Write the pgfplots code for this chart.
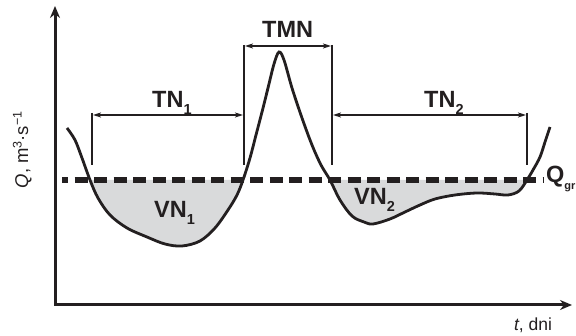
\documentclass[border=0pt]{standalone}
\usepackage{pgfplots}
\pgfplotsset{compat=1.18}
\usepgfplotslibrary{fillbetween}
\usetikzlibrary{arrows.meta}
\usepackage{fontspec}
\setmainfont{Liberation Sans}
\definecolor{ink}{HTML}{231F20}
\definecolor{lowfill}{HTML}{D9DADB}
\newcommand{\lab}{\bfseries\fontsize{23.5}{27}\selectfont}
\newcommand{\sub}[1]{\raisebox{-7pt}{\fontsize{14.5}{14.5}\selectfont #1}}
\begin{document}
\begin{tikzpicture}
\begin{axis}[hide axis, scale only axis, width=576pt, height=336pt,
  xmin=0, xmax=576, ymin=0, ymax=336, y dir=reverse, clip=false]
\addplot[name path=curve, ink, line width=2.8pt, smooth, tension=0.55] coordinates {
(67,128) (75,140) (82,158) (90,180) (98,198) (110,215) (127,228) (147,237)
(165,244) (182,246) (200,241) (215,228) (228,210) (237,195) (243,180)
(250,158) (256,135) (262,112) (268,88) (274,64) (279,52) (284,60) (292,88)
(302,118) (312,145) (321,165) (330,180) (340,200) (352,216) (364,222)
(373,224) (390,219) (405,212) (420,205) (435,199) (455,195) (477,193)
(495,194) (508,195) (519,191) (527,180) (533,170) (540,157) (545,142) (550,127)};
\addplot[name path=qgr, draw=none] coordinates {(62,180) (543,180)};
\addplot[fill=lowfill, draw=none] fill between[of=curve and qgr, soft clip={domain=90:243}];
\addplot[fill=lowfill, draw=none] fill between[of=curve and qgr, soft clip={domain=330:527}];
% Q_gr dashed line
\draw[ink, line width=6pt, dash pattern=on 13pt off 6.5pt, dash phase=7pt] (62,180) -- (543,180);
% axes
\draw[ink, line width=3pt, line join=miter, {Stealth[length=12pt,width=10pt]}-{Stealth[length=12pt,width=10pt]}]
  (55,6) -- (55,305) -- (572,305);
% brackets
\draw[ink, line width=1.6pt] (92,113) -- (92,165);
\draw[ink, line width=1.6pt] (244,45) -- (244,165);
\draw[ink, line width=1.6pt] (332,45) -- (332,165);
\draw[ink, line width=1.6pt] (527,113) -- (527,165);
\draw[ink, line width=1.4pt, {Stealth[length=8pt,width=5pt,inset=2pt]}-{Stealth[length=8pt,width=5pt,inset=2pt]}] (93,115) -- (243,115);
\draw[ink, line width=1.4pt, {Stealth[length=8pt,width=5pt,inset=2pt]}-{Stealth[length=8pt,width=5pt,inset=2pt]}] (245,46) -- (331,46);
\draw[ink, line width=1.4pt, {Stealth[length=8pt,width=5pt,inset=2pt]}-{Stealth[length=8pt,width=5pt,inset=2pt]}] (333,115) -- (526,115);
% labels
\node[anchor=base west, inner sep=0pt, text=ink] at (152,108) {\lab TN\sub{1}};
\node[anchor=base west, inner sep=0pt, text=ink] at (424,108) {\lab TN\sub{2}};
\node[anchor=base west, inner sep=0pt, text=ink] at (262,38) {\lab TMN};
\node[anchor=base west, inner sep=0pt, text=ink] at (154,218) {\lab VN\sub{1}};
\node[anchor=base west, inner sep=0pt, text=ink] at (354,205) {\lab VN\sub{2}};
\node[anchor=base west, inner sep=0pt, text=ink] at (546,183) {\lab Q\raisebox{-7pt}{\fontsize{11}{11}\selectfont gr}};
\node[rotate=90, inner sep=0pt, text=ink, anchor=base] at (28,150)
  {\fontsize{18.5}{21}\selectfont\textit{Q}, m\raisebox{6.5pt}{\fontsize{12.5}{12.5}\selectfont 3}·s\raisebox{6.5pt}{\fontsize{12.5}{12.5}\selectfont −1}};
\node[anchor=base, inner sep=0pt, text=ink] at (533,331)
  {\fontsize{17.5}{20}\selectfont\textit{t}, dni};
\end{axis}
\pgfresetboundingbox
\path[use as bounding box] (0,0) rectangle (576pt,336pt);
\end{tikzpicture}
\end{document}
